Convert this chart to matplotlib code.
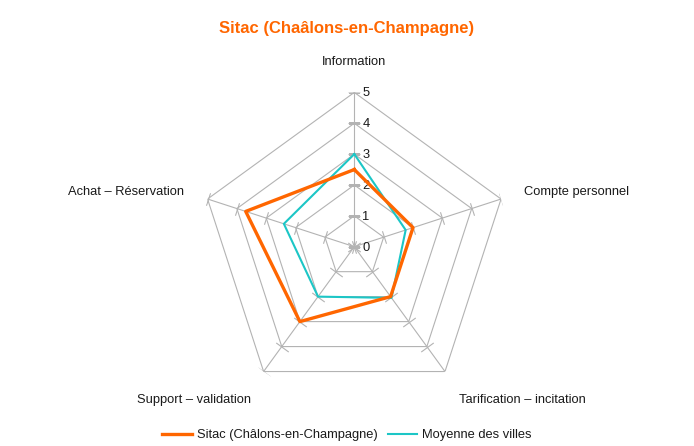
import numpy as np
import matplotlib
matplotlib.use("Agg")
import matplotlib.pyplot as plt

plt.rcParams['font.family'] = ['Liberation Sans', 'DejaVu Sans']

categories = ["Information", "Compte personnel", "Tarification – incitation",
              "Support – validation", "Achat – Réservation"]
sitac = [2.5, 2.0, 2.0, 3.0, 3.7]
moyenne = [3.0, 1.75, 2.05, 2.0, 2.4]
levels = [0, 1, 2, 3, 4, 5]
series_names = ["Sitac (Châlons-en-Champagne)", "Moyenne des villes"]
title = "Sitac (Chaâlons-en-Champagne)"

ORANGE = "#FF6600"
TEAL = "#1CC6C6"
GRID = "#B3B3B3"
TXT = "#1A1A1A"

W, H = 694, 446
fig = plt.figure(figsize=(W / 100, H / 100), dpi=100)
cx, cy, R = 354.3, 446 - 246.7, 154.3
ax = fig.add_axes([(cx - R) / W, (cy - R) / H, 2 * R / W, 2 * R / H], projection='polar')
ax.set_theta_offset(np.pi / 2)
ax.set_theta_direction(-1)
ax.set_ylim(0, 5)
ax.set_axis_off()

n = len(categories)
theta = np.arange(n) * 2 * np.pi / n
theta_c = np.append(theta, theta[0])

# rings
for lv in levels[1:]:
    ax.plot(theta_c, [lv] * (n + 1), color=GRID, lw=0.8, zorder=1)
# spokes and tick marks
for t in theta:
    ax.plot([t, t], [0, levels[-1]], color=GRID, lw=0.8, zorder=1)
    phi = np.radians(90 - np.degrees(t)) + np.pi / 2  # perpendicular to spoke
    verts = [(-np.cos(phi), -np.sin(phi)), (np.cos(phi), np.sin(phi))]
    ax.plot([t] * len(levels), levels, linestyle='none',
            marker=verts, markersize=9, markeredgecolor=GRID,
            markerfacecolor='none', markeredgewidth=0.8, zorder=1)

# level labels
for lv in levels:
    ax.annotate(str(lv), xy=(0, lv), xytext=(8, -1), textcoords='offset pixels',
                ha='left', va='center', fontsize=9.3, color=TXT)

# series
ax.plot(theta_c, np.append(moyenne, moyenne[0]), color=TEAL, lw=1.5, zorder=3,
        label=series_names[1])
ax.plot(theta_c, np.append(sitac, sitac[0]), color=ORANGE, lw=2.4, zorder=4,
        label=series_names[0])

# category labels
offsets = [((0, 30), 'center', 'center'),
           ((23, 7), 'left', 'center'),
           ((14, -28), 'left', 'center'),
           ((-13, -28), 'right', 'center'),
           ((-24, 7), 'right', 'center')]
for t, lab, (off, ha, va) in zip(theta, categories, offsets):
    ax.annotate(lab, xy=(t, 5), xytext=off, textcoords='offset pixels',
                ha=ha, va=va, fontsize=9.3, color=TXT)

fig.text(347 / W, 1 - 28.7 / H, title, ha='center', va='center',
         fontsize=12, fontweight='bold', color=ORANGE)

h, l = ax.get_legend_handles_labels()
fig.legend(h[::-1], l[::-1], loc='center', bbox_to_anchor=(347 / W, 1 - 435 / H),
           ncol=2, frameon=False, fontsize=9.3, handlelength=2.3,
           handletextpad=0.35, columnspacing=0.8, labelcolor=TXT)

fig.savefig("out.png", dpi=100)
